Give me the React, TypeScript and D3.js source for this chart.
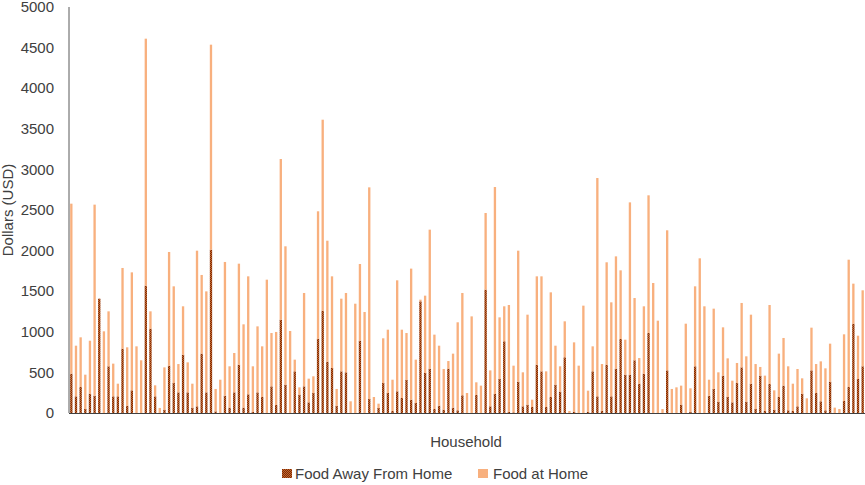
import React from "react";
import * as d3 from "d3";

const households: number[] = Array.from({ length: 171 }, (_, i) => i + 1);

const foodAwayFromHome: number[] = [
  484, 205, 320, 50, 238, 213, 1408, 0, 575, 205,
  205, 792, 90, 279, 0, 0, 1568, 1039, 205, 0,
  41, 583, 369, 254, 718, 254, 66, 82, 731, 254,
  2011, 20, 0, 213, 66, 254, 595, 66, 230, 16,
  254, 197, 0, 328, 99, 1149, 349, 0, 513, 226,
  328, 131, 246, 915, 1260, 632, 554, 90, 513, 501,
  0, 0, 891, 0, 172, 0, 62, 369, 246, 25,
  267, 185, 410, 164, 123, 1375, 493, 546, 49, 90,
  41, 546, 66, 33, 218, 0, 0, 222, 0, 1519,
  82, 234, 419, 883, 16, 8, 386, 82, 103, 74,
  595, 513, 74, 197, 349, 263, 686, 0, 16, 0,
  0, 16, 513, 205, 29, 595, 205, 546, 911, 472,
  472, 649, 361, 484, 985, 0, 0, 0, 525, 0,
  0, 103, 0, 16, 575, 0, 0, 213, 296, 140,
  460, 197, 131, 369, 562, 140, 361, 49, 460, 25,
  357, 41, 197, 337, 33, 25, 82, 238, 0, 525,
  246, 144, 33, 386, 0, 0, 148, 320, 1100, 419,
  575,
];

const foodAtHome: number[] = [
  2094, 624, 612, 422, 652, 2353, 0, 1006, 677, 403,
  156, 994, 719, 1453, 821, 649, 3042, 213, 136, 62,
  521, 1400, 1191, 349, 596, 370, 295, 1917, 969, 1244,
  2525, 276, 410, 1647, 509, 485, 1244, 1026, 1453, 559,
  813, 624, 1642, 657, 899, 1979, 1704, 1010, 144, 90,
  1150, 292, 206, 1569, 2352, 1490, 1129, 206, 895, 977,
  144, 1346, 944, 1244, 2607, 197, 53, 551, 780, 385,
  1367, 841, 575, 1614, 534, 21, 952, 1712, 916, 739,
  501, 94, 665, 1084, 1260, 246, 1190, 156, 337, 944,
  443, 2549, 759, 431, 1314, 575, 1613, 419, 1108, 90,
  1088, 1170, 439, 1289, 480, 312, 443, 25, 854, 583,
  1322, 259, 308, 2689, 574, 1261, 1158, 1383, 846, 431,
  2122, 767, 316, 830, 1696, 1601, 1137, 49, 1725, 296,
  316, 234, 1100, 288, 985, 1905, 1314, 197, 989, 361,
  595, 476, 267, 247, 793, 558, 850, 554, 107, 435,
  973, 238, 534, 587, 542, 336, 460, 189, 181, 526,
  357, 492, 517, 468, 66, 49, 821, 1568, 493, 533,
  936,
];

const yTicks: number[] = [0, 500, 1000, 1500, 2000, 2500, 3000, 3500, 4000, 4500, 5000];

const seriesNames: string[] = ["Food Away From Home", "Food at Home"];

const W = 865;
const H = 485;
const FONT = "'Liberation Sans', Arial, sans-serif";
const TEXT = "#404040";
const LIGHT = "#F8B07E";

export default function App() {
  const x = d3
    .scaleBand<number>()
    .domain(households)
    .range([69, 865])
    .paddingInner(0.5)
    .paddingOuter(0.25);
  const y = d3.scaleLinear().domain([0, 5000]).range([413, 7]);

  const rows = households.map((h, i) => ({
    h,
    away: foodAwayFromHome[i],
    home: foodAtHome[i],
  }));
  const stack = d3.stack<any>().keys(["away", "home"]);
  const layers = stack(rows);

  return (
    <svg
      width={W}
      height={H}
      style={{ position: "absolute", left: 0, top: 0, background: "#fff" }}
      fontFamily={FONT}
    >
      <defs>
        <pattern id="checker" width="2" height="2" patternUnits="userSpaceOnUse">
          <rect width="2" height="2" fill="#7A2C08" />
          <rect x="0" y="0" width="1" height="1" fill="#C8662C" />
          <rect x="1" y="1" width="1" height="1" fill="#C8662C" />
        </pattern>
      </defs>
      <rect width={W} height={H} fill="#fff" />

      {/* bars */}
      {layers.map((layer, li) => (
        <g key={li} fill={li === 0 ? "url(#checker)" : LIGHT}>
          {layer.map((d, i) => {
            const y0 = y(d[0]);
            const y1 = y(d[1]);
            const hgt = y0 - y1;
            if (hgt <= 0) return null;
            return (
              <rect
                key={i}
                x={x(rows[i].h)!}
                y={y1}
                width={x.bandwidth()}
                height={hgt}
              />
            );
          })}
        </g>
      ))}

      {/* axes */}
      <line x1={69} x2={69} y1={7} y2={413} stroke="#595959" strokeWidth={1} />
      <line x1={69} x2={865} y1={413.5} y2={413.5} stroke="#404040" strokeWidth={1} />

      {yTicks.map((t) => (
        <text
          key={t}
          x={54}
          y={y(t)}
          dy="0.35em"
          textAnchor="end"
          fontSize={15}
          fill={TEXT}
        >
          {t}
        </text>
      ))}

      <text
        transform={`translate(13,210) rotate(-90)`}
        textAnchor="middle"
        fontSize={15}
        fill={TEXT}
      >
        Dollars (USD)
      </text>

      <text x={466} y={447} textAnchor="middle" fontSize={15} fill={TEXT}>
        Household
      </text>

      {/* legend */}
      <rect x={282} y={469} width={10} height={9} fill="url(#checker)" />
      <text x={295} y={479} fontSize={15} fill={TEXT}>
        {seriesNames[0]}
      </text>
      <rect x={478} y={469} width={10} height={9} fill={LIGHT} />
      <text x={493} y={479} fontSize={15} fill={TEXT}>
        {seriesNames[1]}
      </text>
    </svg>
  );
}
